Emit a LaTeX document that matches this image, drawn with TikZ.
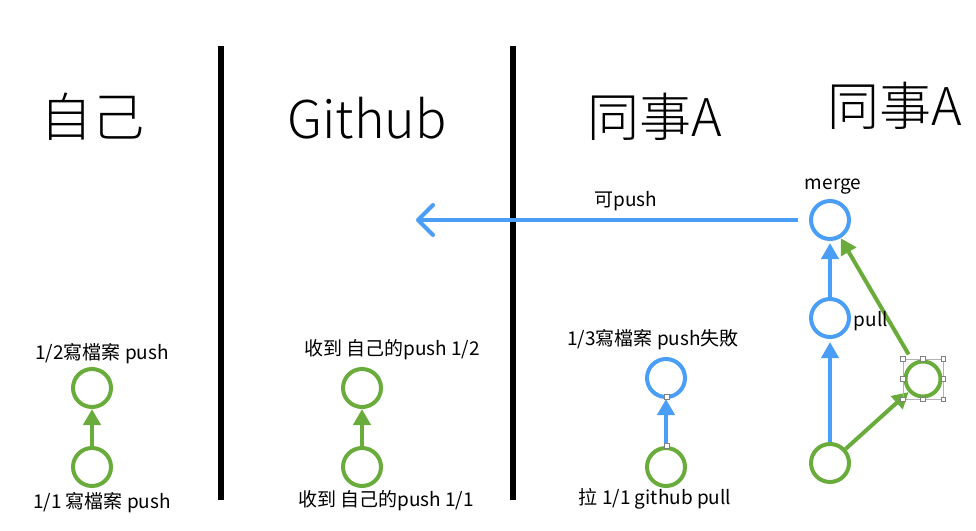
\documentclass[tikz,border=0pt]{standalone}
\usepackage{fontspec}
\setmainfont{Noto Sans CJK TC}
\newfontfamily\headfont{Noto Sans CJK TC Light}
\usetikzlibrary{arrows.meta}
\definecolor{gitgreen}{RGB}{106,172,60}
\definecolor{gitblue}{RGB}{74,158,245}
\tikzset{
  commitG/.style={circle,draw=gitgreen,line width=4pt,minimum size=38pt,inner sep=0pt},
  commitB/.style={commitG,draw=gitblue},
  garrow/.style={draw=gitgreen,line width=4pt,-{Triangle[length=16pt,width=17pt]}},
  barrow/.style={garrow,draw=gitblue},
  lbl/.style={font=\fontsize{19}{21}\selectfont,inner sep=0pt,text height=0.8em,text depth=0.2em},
  head/.style={font=\headfont\fontsize{52}{60}\selectfont,inner sep=0pt},
  divider/.style={line width=6.5pt,black},
  handle/.style={draw=gray,fill=white,line width=0.6pt,minimum size=4.5pt,inner sep=0pt,rectangle}
}
\begin{document}
\begin{tikzpicture}[x=1pt,y=-1pt]
\useasboundingbox (0,0) rectangle (976,530);
% dividers
\coordinate (d1t) at (221,46); \coordinate (d1b) at (221,500);
\coordinate (d2t) at (513,46); \coordinate (d2b) at (513,500);
\draw[divider] (d1t) -- (d1b);
\draw[divider] (d2t) -- (d2b);
% headings
\node[head] (h1) at (92,117) {自己};
\node[head] (h2) at (367,118) {Github};
\node[head] (h3) at (655,117) {同事A};
\node[head] (h4) at (895,106) {同事A};
% self column
\node[commitG] (s2) at (92,388) {};
\node[commitG] (s1) at (92,467) {};
\draw[garrow] (s1) -- (s2);
\node[lbl] (ls2) at (102,356) {1/2寫檔案 push};
\node[lbl] (ls1) at (102,505) {1/1 寫檔案 push};
% github column
\node[commitG] (g2) at (362,388) {};
\node[commitG] (g1) at (362,467) {};
\draw[garrow] (g1) -- (g2);
\node[lbl] (lg2) at (392,352) {收到 自己的push 1/2};
\node[lbl] (lg1) at (386,503) {收到 自己的push 1/1};
% coworker column
\node[commitB] (c2) at (666,378) {};
\node[commitG] (c1) at (666,467) {};
\draw[barrow] (c1) -- (c2);
\node[handle] (hc2) at (667,397) {};
\node[handle] (hc1) at (667,446) {};
\node[lbl] (lc2) at (653,342) {1/3寫檔案 push失敗};
\node[lbl] (lc1) at (655,501) {拉 1/1 github pull};
% right column
\node[commitB] (m) at (830,220) {};
\node[commitB] (p) at (830,318) {};
\node[commitG] (b) at (830,463) {};
\node[commitG,minimum size=35pt] (sd) at (923,379) {};
\draw[barrow,shorten >=3pt] (b) -- (p);
\draw[barrow,shorten >=2pt] (p) -- (m);
\draw[garrow] (b) -- (sd);
\draw[garrow,shorten <=9pt] (sd) -- (m);
\node[lbl] (lm) at (833,186) {merge};
\node[lbl] (lp) at (871,323) {pull};
% selection handles around side commit
\node[draw=gray!60,line width=0.5pt,minimum size=40pt,inner sep=0pt] (selbox) at (923,379) {};
\foreach \a in {north west,north,north east,east,south east,south,south west,west}
  \node[handle] at (selbox.\a) {};
% push arrow to github
\coordinate (ghend) at (416,220);
\draw[gitblue,line width=4pt,shorten <=11pt,-{Straight Barb[length=15pt,width=30pt,round]}] (m) -- (ghend);
\node[lbl] (lpush) at (626,203) {可push};
\end{tikzpicture}
\end{document}
